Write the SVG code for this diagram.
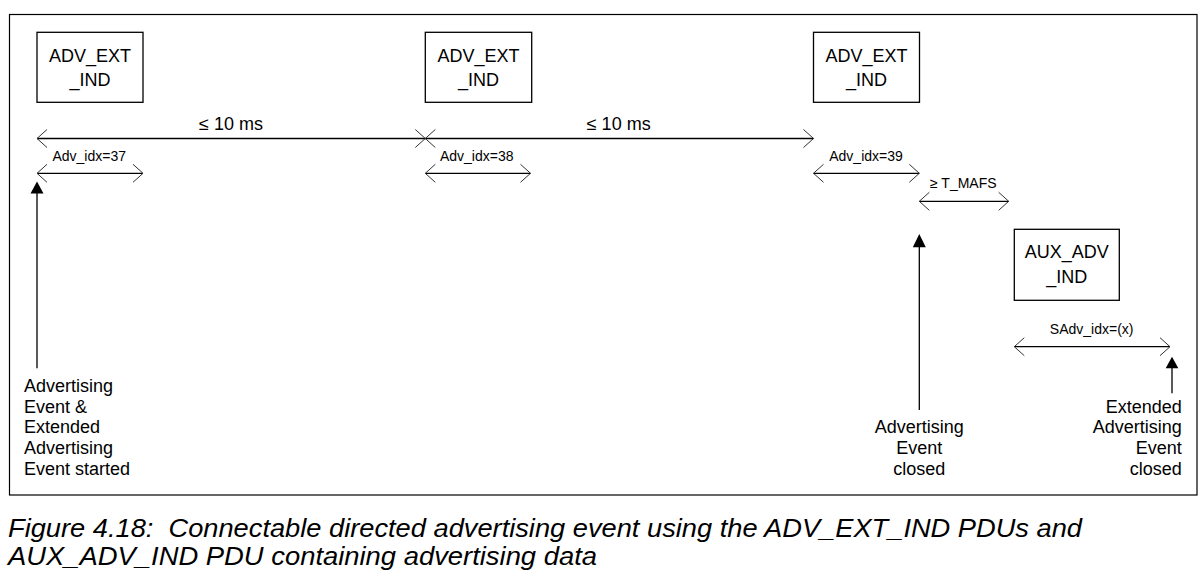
<svg xmlns="http://www.w3.org/2000/svg" width="1204" height="577" viewBox="0 0 1204 577">
<style>
.box{fill:#fff;stroke:#000;stroke-width:1.3}
.t{font-family:"Liberation Sans",Arial,sans-serif;fill:#000}
.big{font-size:18px}
.sm{font-size:14px}
.mid{text-anchor:middle}
.end{text-anchor:end}
.ln{stroke:#000;stroke-width:1.3;fill:none}
.cap{font-family:"Liberation Sans",Arial,sans-serif;font-style:italic;font-size:25px;fill:#000}
</style>
<defs>
<marker id="chev" viewBox="-12 -11 14 22" markerWidth="14" markerHeight="22" refX="0" refY="0" markerUnits="userSpaceOnUse" orient="auto-start-reverse">
<path d="M-10,-9 L0,0 L-10,9" fill="none" stroke="#333" stroke-width="1"/>
</marker>
</defs>
<rect id="frame" x="9.5" y="14.5" width="1187.5" height="480.5" fill="none" stroke="#000" stroke-width="1.2"/>

<g id="node-adv1">
<rect class="box" x="37" y="32.3" width="106" height="70"/>
<text class="t big mid" x="90" y="62">ADV_EXT</text>
<text class="t big mid" x="90" y="86">_IND</text>
</g>
<g id="node-adv2">
<rect class="box" x="425.3" y="32.3" width="106.4" height="70"/>
<text class="t big mid" x="478.5" y="62">ADV_EXT</text>
<text class="t big mid" x="478.5" y="86">_IND</text>
</g>
<g id="node-adv3">
<rect class="box" x="813.5" y="32.3" width="106" height="70"/>
<text class="t big mid" x="866.5" y="62">ADV_EXT</text>
<text class="t big mid" x="866.5" y="86">_IND</text>
</g>
<g id="node-aux">
<rect class="box" x="1014.3" y="229.3" width="105" height="71"/>
<text class="t big mid" x="1066.8" y="258.3">AUX_ADV</text>
<text class="t big mid" x="1066.8" y="283.3">_IND</text>
</g>

<g id="connectors">
<line class="ln" x1="37" y1="138.5" x2="425.3" y2="138.5" marker-start="url(#chev)" marker-end="url(#chev)"/>
<line class="ln" x1="425.3" y1="138.5" x2="813.5" y2="138.5" marker-start="url(#chev)" marker-end="url(#chev)"/>
<line class="ln" x1="37" y1="173.3" x2="143" y2="173.3" marker-start="url(#chev)" marker-end="url(#chev)"/>
<line class="ln" x1="425.3" y1="173.3" x2="530.5" y2="173.3" marker-start="url(#chev)" marker-end="url(#chev)"/>
<line class="ln" x1="813.5" y1="173.3" x2="919.3" y2="173.3" marker-start="url(#chev)" marker-end="url(#chev)"/>
<line class="ln" x1="919.3" y1="201.3" x2="1008.7" y2="201.3" marker-start="url(#chev)" marker-end="url(#chev)"/>
<line class="ln" x1="1014.3" y1="346.7" x2="1170" y2="346.7" marker-start="url(#chev)" marker-end="url(#chev)"/>
<line class="ln" x1="37" y1="368.3" x2="37" y2="192"/>
<path d="M37,181.5 L43.5,193.5 L30.5,193.5 Z" fill="#000"/>
<line class="ln" x1="919.3" y1="410" x2="919.3" y2="246"/>
<path d="M919.3,234 L925.8,247.3 L912.8,247.3 Z" fill="#000"/>
<line class="ln" x1="1172" y1="393.3" x2="1172" y2="367"/>
<path d="M1172,356.7 L1178.3,368.3 L1165.7,368.3 Z" fill="#000"/>
<text class="t big mid" x="231" y="130">≤ 10 ms</text>
<text class="t big mid" x="618.7" y="130">≤ 10 ms</text>
<text class="t sm mid" x="89.2" y="161">Adv_idx=37</text>
<text class="t sm mid" x="476.7" y="161">Adv_idx=38</text>
<text class="t sm mid" x="866" y="161">Adv_idx=39</text>
<text class="t sm mid" x="963.3" y="188.3">≥ T_MAFS</text>
<text class="t sm mid" x="1091.7" y="334.3">SAdv_idx=(x)</text>
</g>

<g id="label-start">
<text class="t big" x="24" y="392.3">Advertising</text>
<text class="t big" x="24" y="412.7">Event &amp;</text>
<text class="t big" x="24" y="433.3">Extended</text>
<text class="t big" x="24" y="454.3">Advertising</text>
<text class="t big" x="24" y="475">Event started</text>
</g>
<g id="label-adv-closed">
<text class="t big mid" x="919.2" y="433.3">Advertising</text>
<text class="t big mid" x="919.2" y="454.3">Event</text>
<text class="t big mid" x="919.2" y="475">closed</text>
</g>
<g id="label-ext-closed">
<text class="t big end" x="1181.7" y="412.7">Extended</text>
<text class="t big end" x="1181.7" y="433.3">Advertising</text>
<text class="t big end" x="1181.7" y="454.3">Event</text>
<text class="t big end" x="1181.7" y="475">closed</text>
</g>

<g id="caption">
<text class="cap" x="8" y="537" textLength="1074" lengthAdjust="spacingAndGlyphs">Figure 4.18:&#160; Connectable directed advertising event using the ADV_EXT_IND PDUs and</text>
<text class="cap" x="8" y="565" textLength="589" lengthAdjust="spacingAndGlyphs">AUX_ADV_IND PDU containing advertising data</text>
</g>
</svg>
